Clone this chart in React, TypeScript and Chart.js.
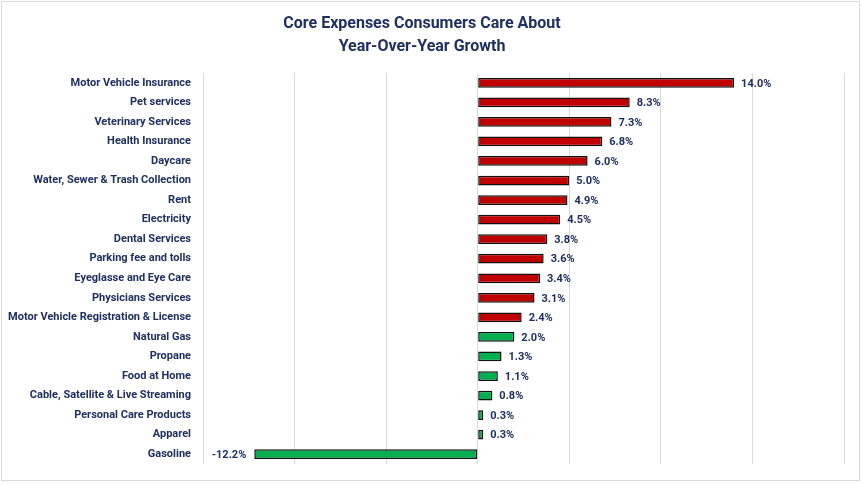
import React, { useEffect, useRef } from "react";
import { Chart, registerables } from "chart.js";

Chart.register(...registerables);

const categories = [
  "Motor Vehicle Insurance",
  "Pet services",
  "Veterinary Services",
  "Health Insurance",
  "Daycare",
  "Water, Sewer & Trash Collection",
  "Rent",
  "Electricity",
  "Dental Services",
  "Parking fee and tolls",
  "Eyeglasse and Eye Care",
  "Physicians Services",
  "Motor Vehicle Registration & License",
  "Natural Gas",
  "Propane",
  "Food at Home",
  "Cable, Satellite & Live Streaming",
  "Personal Care Products",
  "Apparel",
  "Gasoline",
];

const growth = [14.0, 8.3, 7.3, 6.8, 6.0, 5.0, 4.9, 4.5, 3.8, 3.6, 3.4, 3.1, 2.4, 2.0, 1.3, 1.1, 0.8, 0.3, 0.3, -12.2];

// "r" = red bars, "g" = green bars
const group = ["r", "r", "r", "r", "r", "r", "r", "r", "r", "r", "r", "r", "r", "g", "g", "g", "g", "g", "g", "g"];

const titleLines = ["Core Expenses Consumers Care About", "Year-Over-Year Growth"];

const NAVY = "#1F3060";
const FONT = "Roboto, 'Liberation Sans', sans-serif";

const frame = {
  id: "frame",
  beforeDraw(chart: any) {
    const ctx = chart.ctx;
    ctx.save();
    ctx.fillStyle = "#ffffff";
    ctx.fillRect(0, 0, chart.width, chart.height);
    ctx.strokeStyle = "#D9D9D9";
    ctx.lineWidth = 1;
    ctx.strokeRect(1.5, 1.5, 858, 479);
    ctx.restore();
  },
};

const valueLabels = {
  id: "valueLabels",
  afterDatasetsDraw(chart: any) {
    const ctx = chart.ctx;
    const meta = chart.getDatasetMeta(0);
    ctx.save();
    ctx.font = `bold 11px ${FONT}`;
    ctx.fillStyle = NAVY;
    ctx.textBaseline = "middle";
    meta.data.forEach((bar: any, i: number) => {
      const v = growth[i];
      const txt = v.toFixed(1) + "%";
      if (v >= 0) {
        ctx.textAlign = "left";
        ctx.fillText(txt, bar.x + 7, bar.y + 1);
      } else {
        ctx.textAlign = "right";
        ctx.fillText(txt, bar.x - 8, bar.y + 1);
      }
    });
    ctx.restore();
  },
};

export default function App() {
  const ref = useRef<HTMLCanvasElement>(null);
  useEffect(() => {
    if (!ref.current) return;
    const chart = new Chart(ref.current, {
      type: "bar",
      data: {
        labels: categories,
        datasets: [
          {
            data: growth,
            backgroundColor: group.map((g) => (g === "r" ? "#C00000" : "#00B050")),
            borderColor: "#111111",
            borderWidth: 1.5,
            borderSkipped: false,
            categoryPercentage: 1,
            barPercentage: 0.5,
          },
        ],
      },
      options: {
        indexAxis: "y",
        animation: false,
        responsive: false,
        maintainAspectRatio: false,
        layout: { padding: { left: 0, right: 18, top: 0, bottom: 20 } },
        plugins: {
          legend: { display: false },
          tooltip: { enabled: false },
          title: {
            display: true,
            text: titleLines,
            color: NAVY,
            font: { family: FONT, size: 16, weight: "bold", lineHeight: 1.45 },
            padding: { top: 12, bottom: 14.6 },
          },
        },
        scales: {
          x: {
            min: -15,
            max: 20,
            ticks: { display: false, stepSize: 5 },
            grid: { color: "#D9D9D9", drawTicks: false, lineWidth: 1 },
            border: { display: false },
          },
          y: {
            grid: { display: false, drawTicks: false },
            border: { display: false },
            ticks: {
              color: NAVY,
              padding: 12,
              autoSkip: false,
              font: { family: FONT, size: 11, weight: "bold" },
            },
            afterFit(scale: any) {
              scale.width = 203;
            },
          },
        },
      },
      plugins: [frame, valueLabels],
    });
    return () => chart.destroy();
  }, []);
  return (
    <div style={{ position: "fixed", left: 0, top: 0, width: 862, height: 484, background: "#fff" }}>
      <canvas ref={ref} width={862} height={484} style={{ width: 862, height: 484, display: "block" }} />
    </div>
  );
}
